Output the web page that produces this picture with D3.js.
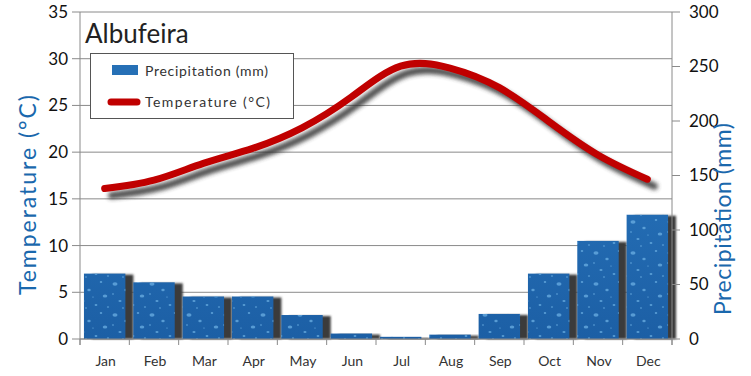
<!DOCTYPE html>
<html>
<head>
<meta charset="utf-8">
<script src="https://cdn.jsdelivr.net/npm/d3@7"></script>
<style>
  body { margin: 0; background: #fff; }
  svg { display: block; font-family: Lato, "Open Sans", sans-serif; }
</style>
</head>
<body>
<svg id="chart" width="751" height="376"></svg>
<script>
// DATA
const months = ['Jan', 'Feb', 'Mar', 'Apr', 'May', 'Jun', 'Jul', 'Aug', 'Sep', 'Oct', 'Nov', 'Dec']
const precipitation = [60, 52, 39, 39, 22, 5, 2, 4, 23, 60, 90, 114]
const temperature = [16.1, 17.0, 18.8, 20.4, 22.6, 25.9, 29.2, 29.0, 26.9, 23.3, 19.7, 17.1]
const tempTicks = [0, 5, 10, 15, 20, 25, 30, 35]
const precTicks = [0, 50, 100, 150, 200, 250, 300]

// SVG, SCALES
const svg = d3.select('#chart')
const margin = { top: 12, right: 79, bottom: 37, left: 80 }
const width = 751, height = 376

const x = d3.scaleBand()
    .domain(months)
    .range([margin.left, width - margin.right])
    .paddingInner(0.16)
    .paddingOuter(0.08)

const xTick = d3.scalePoint().domain(d3.range(13)).range([margin.left, width - margin.right])

const yTemp = d3.scaleLinear().domain([0, 35]).range([height - margin.bottom, margin.top])
const yPrec = d3.scaleLinear().domain([0, 300]).range([height - margin.bottom, margin.top])

const defs = svg.append('defs')

// bar texture: blue gradient, then scattered light drops on top
const grad2 = defs.append('linearGradient').attr('id', 'barFill')
    .attr('gradientUnits', 'userSpaceOnUse')
    .attr('x1', 0).attr('y1', margin.top).attr('x2', 0).attr('y2', height - margin.bottom)
grad2.append('stop').attr('offset', '0%').attr('stop-color', '#2f80c8')
grad2.append('stop').attr('offset', '100%').attr('stop-color', '#1c5fa5')

const pat = defs.append('pattern').attr('id', 'drops')
    .attr('patternUnits', 'userSpaceOnUse').attr('width', 37).attr('height', 31)
const dropSpots = [[4, 5, 1.8], [15, 11, 1.2], [9, 22, 1.1], [27, 3, 0.9], [31, 17, 1.6],
    [22, 26, 1.0], [2, 15, 0.7], [34, 28, 0.8], [19, 18, 0.6], [12, 29, 0.7]]
pat.selectAll('ellipse').data(dropSpots).join('ellipse')
    .attr('cx', d => d[0]).attr('cy', d => d[1])
    .attr('rx', d => d[2] * 1.4).attr('ry', d => d[2])
    .attr('fill', '#6aaee3').attr('opacity', 0.75)

defs.append('filter').attr('id', 'blurShadow').attr('x', '-20%').attr('y', '-20%').attr('width', '140%').attr('height', '140%')
    .append('feGaussianBlur').attr('stdDeviation', 1.2)
defs.append('filter').attr('id', 'lineShadow').attr('x', '-10%').attr('y', '-30%').attr('width', '120%').attr('height', '160%')
    .append('feGaussianBlur').attr('stdDeviation', 2)

// GRID
svg.append('g').selectAll('line').data(tempTicks).join('line')
    .attr('x1', margin.left).attr('x2', width - margin.right)
    .attr('y1', d => yTemp(d)).attr('y2', d => yTemp(d))
    .attr('stroke', '#8a8a8a').attr('stroke-width', 1)

// BARS
const barW = x.bandwidth()
svg.append('g').selectAll('rect').data(precipitation).join('rect')
    .attr('x', (d, i) => x(months[i]) + 8)
    .attr('y', d => yPrec(d) + 1)
    .attr('width', barW)
    .attr('height', d => yPrec(0) - yPrec(d) - 1)
    .attr('fill', '#3a3a3a')
    .attr('filter', 'url(#blurShadow)')

svg.append('g').selectAll('rect').data(precipitation).join('rect')
    .attr('x', (d, i) => x(months[i]))
    .attr('y', d => yPrec(d))
    .attr('width', barW)
    .attr('height', d => yPrec(0) - yPrec(d))
    .attr('fill', 'url(#barFill)')
svg.append('g').selectAll('rect').data(precipitation).join('rect')
    .attr('x', (d, i) => x(months[i]))
    .attr('y', d => yPrec(d))
    .attr('width', barW)
    .attr('height', d => yPrec(0) - yPrec(d))
    .attr('fill', 'url(#drops)')

// AXES
const axisColor = '#8a8a8a'
const bottom = height - margin.bottom

// left axis
svg.append('line').attr('x1', margin.left).attr('x2', margin.left)
    .attr('y1', margin.top).attr('y2', bottom + 6).attr('stroke', axisColor)
const leftG = svg.append('g')
leftG.selectAll('line').data(tempTicks).join('line')
    .attr('x1', margin.left - 8).attr('x2', margin.left)
    .attr('y1', d => yTemp(d)).attr('y2', d => yTemp(d)).attr('stroke', axisColor)
leftG.selectAll('text').data(tempTicks).join('text')
    .attr('x', margin.left - 12).attr('y', d => yTemp(d))
    .attr('dy', '0.35em').attr('text-anchor', 'end')
    .attr('font-size', 17).attr('fill', '#111')
    .text(d => d)

// right axis
const rx = width - margin.right
svg.append('line').attr('x1', rx).attr('x2', rx)
    .attr('y1', margin.top).attr('y2', bottom + 6).attr('stroke', axisColor)
const rightG = svg.append('g')
rightG.selectAll('line').data(precTicks).join('line')
    .attr('x1', rx).attr('x2', rx + 8)
    .attr('y1', d => yPrec(d)).attr('y2', d => yPrec(d)).attr('stroke', axisColor)
rightG.selectAll('text').data(precTicks).join('text')
    .attr('x', rx + 17).attr('y', d => yPrec(d))
    .attr('dy', '0.35em').attr('text-anchor', 'start')
    .attr('font-size', 17).attr('fill', '#111')
    .text(d => d)

// bottom axis
svg.append('line').attr('x1', margin.left).attr('x2', rx)
    .attr('y1', bottom).attr('y2', bottom).attr('stroke', axisColor)
svg.append('g').selectAll('line').data(d3.range(13)).join('line')
    .attr('x1', d => xTick(d)).attr('x2', d => xTick(d))
    .attr('y1', bottom).attr('y2', bottom + 6).attr('stroke', axisColor)
svg.append('g').selectAll('text').data(months).join('text')
    .attr('x', d => x(d) + x.bandwidth() / 2 + 1)
    .attr('y', bottom + 27)
    .attr('text-anchor', 'middle')
    .attr('font-size', 14).attr('fill', '#333')
    .text(d => d)

// TEMPERATURE LINE
const line = d3.line()
    .x((d, i) => x(months[i]) + x.bandwidth() / 2)
    .y(d => yTemp(d))
    .curve(d3.curveNatural)

svg.append('path').datum(temperature)
    .attr('d', line)
    .attr('transform', 'translate(7,7)')
    .attr('fill', 'none').attr('stroke', '#333').attr('stroke-width', 7)
    .attr('stroke-linecap', 'round').attr('opacity', 0.85)
    .attr('filter', 'url(#lineShadow)')
svg.append('path').datum(temperature)
    .attr('d', line)
    .attr('fill', 'none').attr('stroke', '#c00000').attr('stroke-width', 7)
    .attr('stroke-linecap', 'round')

// TITLES
svg.append('text').attr('x', 85).attr('y', 43)
    .attr('font-size', 26).attr('fill', '#222').text('Albufeira')

svg.append('text')
    .attr('transform', 'translate(36, 195) rotate(-90)')
    .attr('text-anchor', 'middle').attr('font-size', 23).attr('fill', '#1a68ad')
    .attr('textLength', 200).attr('lengthAdjust', 'spacing')
    .text('Temperature (°C)')
svg.append('text')
    .attr('transform', 'translate(731, 219) rotate(-90)')
    .attr('text-anchor', 'middle').attr('font-size', 23).attr('fill', '#1a68ad')
    .attr('textLength', 192).attr('lengthAdjust', 'spacing')
    .text('Precipitation (mm)')

// LEGEND
const lg = svg.append('g')
lg.append('rect').attr('x', 90.5).attr('y', 53.5).attr('width', 203).attr('height', 65)
    .attr('fill', '#fff').attr('stroke', '#555')
lg.append('rect').attr('x', 112).attr('y', 65).attr('width', 26).attr('height', 10)
    .attr('fill', '#2670b6')
lg.append('line').attr('x1', 111).attr('x2', 137).attr('y1', 102).attr('y2', 102)
    .attr('stroke', '#c00000').attr('stroke-width', 7).attr('stroke-linecap', 'round')
lg.append('text').attr('x', 145).attr('y', 76).attr('font-size', 14).attr('fill', '#333')
    .attr('textLength', 123).attr('lengthAdjust', 'spacing')
    .text('Precipitation (mm)')
lg.append('text').attr('x', 145).attr('y', 107).attr('font-size', 14).attr('fill', '#333')
    .attr('textLength', 125).attr('lengthAdjust', 'spacing')
    .text('Temperature (°C)')
</script>
</body>
</html>
